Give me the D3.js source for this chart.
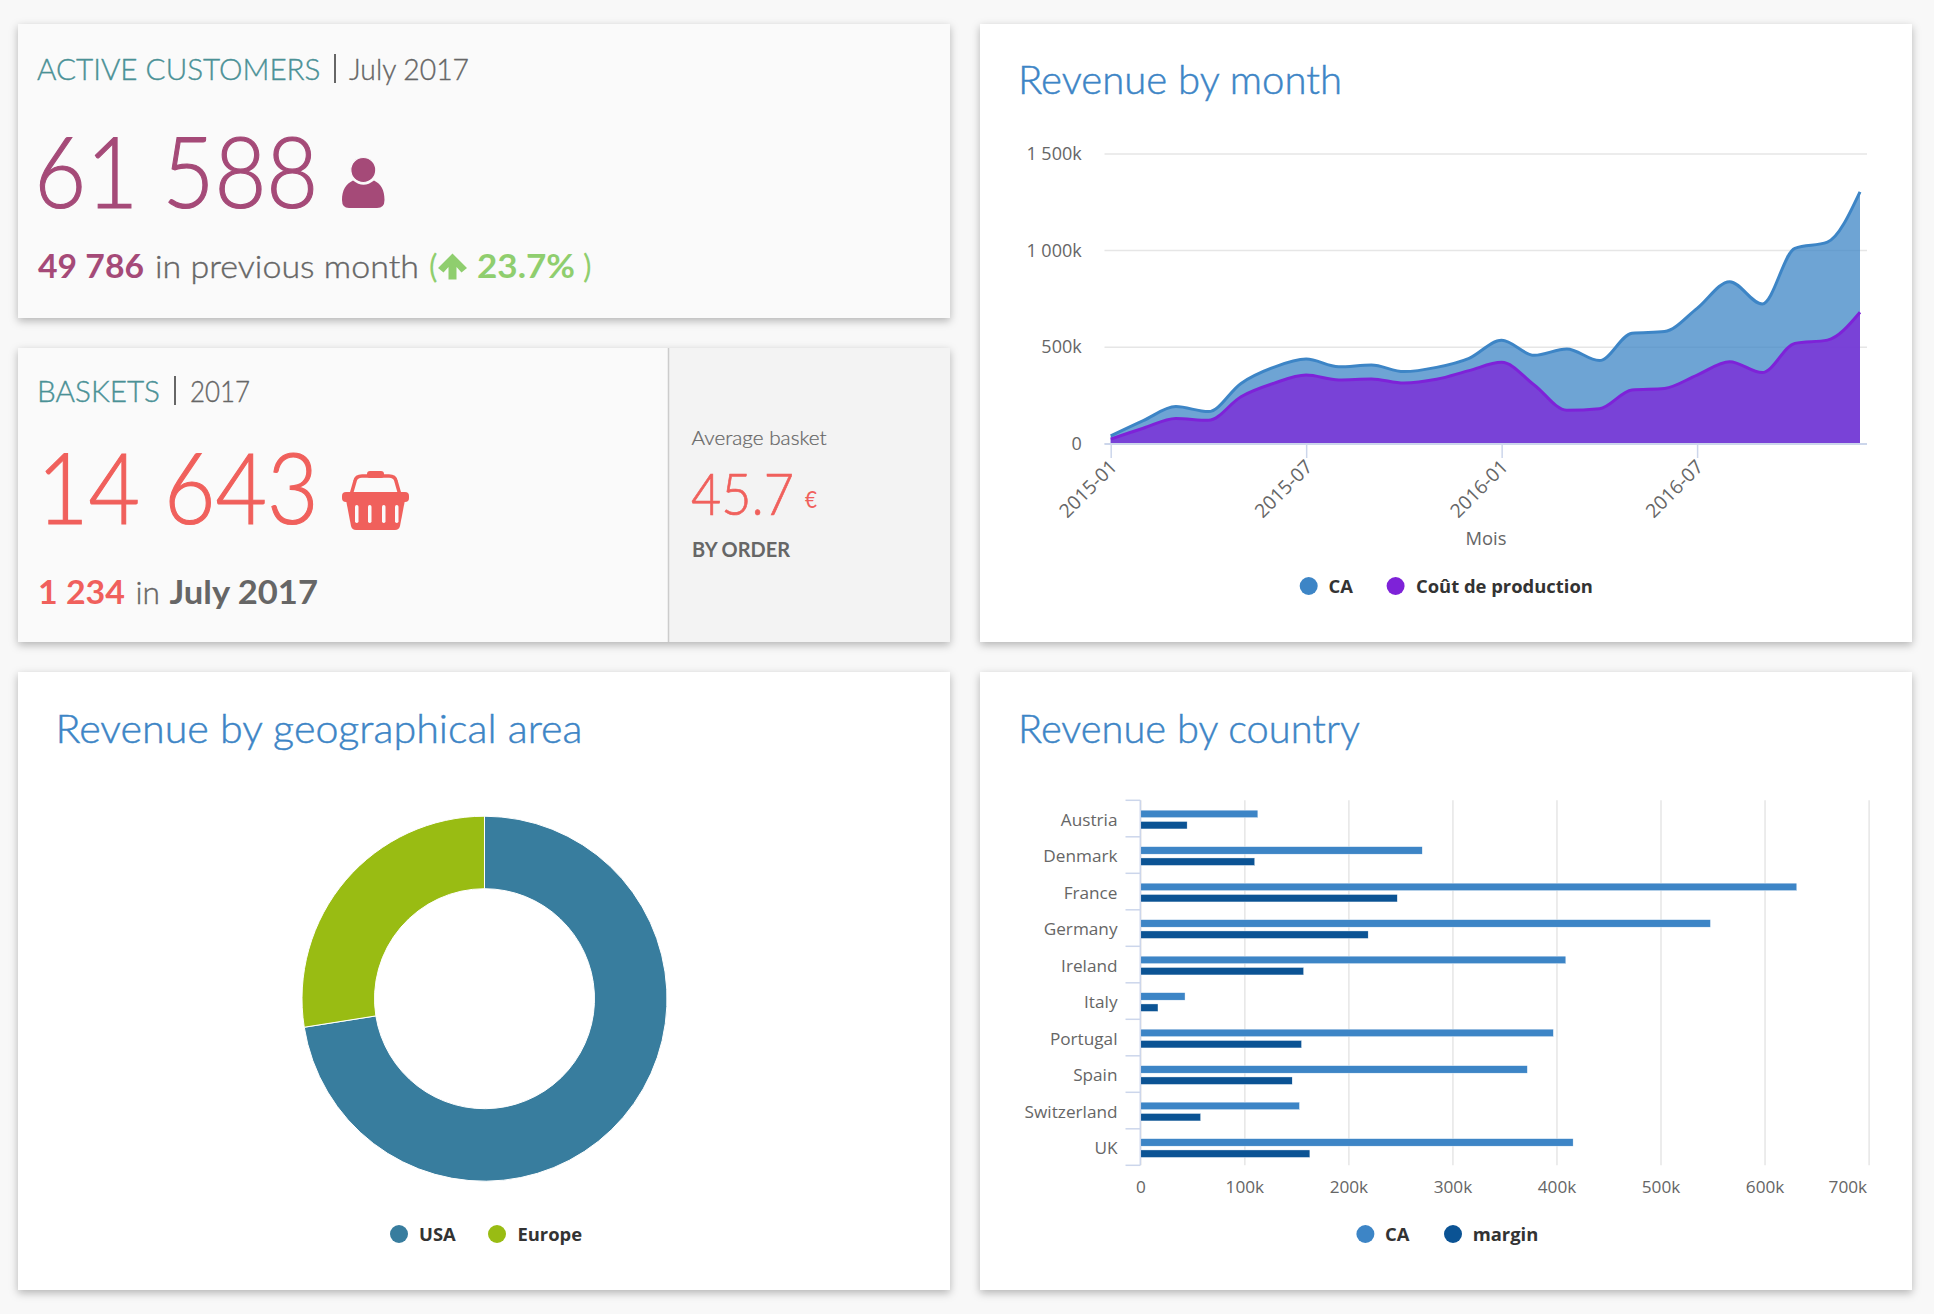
<!DOCTYPE html>
<html>
<head>
<meta charset="utf-8">
<title>Dashboard</title>
<script src="https://cdn.jsdelivr.net/npm/d3@7"></script>
<style>
	html, body { margin: 0; padding: 0; background: #f8f8f8; }
	svg { display: block; }
	.card { filter: drop-shadow(0 3px 4px rgba(0,0,0,.28)); }
	.axis text { font-family: 'Open Sans', sans-serif; fill: #666; }
	.title { font-family: Lato, sans-serif; font-weight: 300; }
	.light { font-family: Lato, sans-serif; font-weight: 300; }
	.reg { font-family: Lato, sans-serif; font-weight: 400; }
	.bold { font-family: Lato, sans-serif; font-weight: 700; }
	.legend { font-family: 'Open Sans', sans-serif; font-weight: 700; font-size: 18.4px; fill: #333; }
</style>
</head>
<body>
<div id="chart-area"></div>
<script>
// revenue by month, in thousands
var months = ['2015-01','2015-02','2015-03','2015-04','2015-05','2015-06','2015-07','2015-08','2015-09','2015-10','2015-11','2015-12',
	'2016-01','2016-02','2016-03','2016-04','2016-05','2016-06','2016-07','2016-08','2016-09','2016-10','2016-11','2016-12'];
var monthRevenue = [38,117,190,164,310,393,436,396,405,371,393,440,533,455,488,428,569,578,698,836,721,1009,1041,1301];
var monthCost = [22,78,128,119,241,310,353,328,333,312,331,376,419,302,171,179,276,284,353,422,366,517,534,678];
var monthTicks = ['2015-01','2015-07','2016-01','2016-07'];
var revenueTicks = [0,500,1000,1500];

// revenue by country, in thousands
var countries = ['Austria','Denmark','France','Germany','Ireland','Italy','Portugal','Spain','Switzerland','UK'];
var countryRevenue = [113,271,631,548,409,43,397,372,153,416];
var countryMargin = [45,110,247,219,157,17,155,146,58,163];
var countryTicks = [0,100,200,300,400,500,600,700];

// revenue by area
var areas = ['USA','Europe'];
var areaShare = [72.5,27.5];

var width = 1934;
var height = 1314;

var svg = d3.select('#chart-area')
	.append('svg')
	.attr('width', width)
	.attr('height', height);

var fr = d3.formatLocale({ decimal: '.', thousands: ' ', grouping: [3], currency: ['', ''] }).format(',');
function kFormat(d) { return d === 0 ? '0' : fr(d) + 'k'; }

function card(x, y, w, h, fill) {
	svg.append('rect')
		.attr('class', 'card')
		.attr('x', x).attr('y', y)
		.attr('width', w).attr('height', h)
		.attr('fill', fill);
}

// fit = measured width in the picture
function label(x, y, str, size, color, cls, fit) {
	var t = svg.append('text')
		.attr('class', cls)
		.attr('x', x).attr('y', y)
		.attr('font-size', size)
		.style('fill', color)
		.text(str);
	// Lato Light is thinner than the original face, thicken it a bit
	if (cls === 'light' || cls === 'title') t.style('stroke', color).style('stroke-width', size * .012);
	if (fit) t.attr('textLength', fit).attr('lengthAdjust', 'spacingAndGlyphs');
	return t;
}

function legendItem(x, y, textX, str, color) {
	svg.append('circle').attr('cx', x).attr('cy', y).attr('r', 9).attr('fill', color);
	svg.append('text').attr('class', 'legend').attr('x', textX).attr('y', y + 6.5).text(str);
}

card(18, 24, 932, 294, '#fafafa');
card(18, 348, 932, 294, '#fafafa');
svg.append('rect').attr('x', 669).attr('y', 348).attr('width', 281).attr('height', 294).attr('fill', '#f3f3f3');
svg.append('line').attr('x1', 668.5).attr('x2', 668.5).attr('y1', 348).attr('y2', 642).attr('stroke', '#ccc').attr('stroke-width', 1.5);
card(980, 24, 932, 618, '#fff');
card(18, 672, 932, 618, '#fff');
card(980, 672, 932, 618, '#fff');

var teal = '#4a9196', grey = '#666', plum = '#a54a78', red = '#f0605c', green = '#8fce6e';

/* active customers */
label(37, 80, 'ACTIVE CUSTOMERS', 30, teal, 'light', 283.5);
svg.append('line').attr('x1', 335).attr('x2', 335).attr('y1', 54).attr('y2', 83).attr('stroke', grey).attr('stroke-width', 2);
label(349, 80, 'July 2017', 30, grey, 'light', 120);
label(34.3, 208, '61 588', 98, plum, 'light', 284);
svg.append('path').attr('fill', plum)
	.attr('d', 'M342,200C342,190 346,184 353,180.5Q363.5,189 374,180.5C381,184 384.5,190 384.5,200Q384.5,208 377,208L349,208Q342,208 342,200Z');
svg.append('circle').attr('cx', 363.3).attr('cy', 170).attr('r', 12.5).attr('fill', plum).attr('stroke', '#fafafa').attr('stroke-width', 1.2);
label(38, 277.5, '49 786', 32, plum, 'bold', 106);
label(155, 277.5, 'in previous month', 32, grey, 'light', 264);
label(429, 277.5, '(', 32, green, 'reg');
svg.append('path').attr('fill', green)
	.attr('d', 'M452.5,253.5L467,268L461.5,272.5L456.5,267L456.5,279.5L448.5,279.5L448.5,267L443.5,272.5L438,268Z');
label(477, 277.5, '23.7%', 32, green, 'bold', 98);
label(583, 277.5, ')', 32, green, 'reg');

/* baskets */
label(37, 402, 'BASKETS', 30, teal, 'light', 123);
svg.append('line').attr('x1', 175).attr('x2', 175).attr('y1', 376).attr('y2', 405).attr('stroke', grey).attr('stroke-width', 2);
label(190, 402, '2017', 30, grey, 'light', 60);
label(37, 524, '14 643', 98, red, 'light', 281.6);
svg.append('path').attr('fill', 'none').attr('stroke', red).attr('stroke-width', 3.5)
	.attr('d', 'M351,495L355,481Q356,476 362,476L389,476Q395,476 396,481L400,495');
svg.append('rect').attr('x', 367).attr('y', 471).attr('width', 17).attr('height', 7).attr('rx', 3).attr('fill', red);
svg.append('rect').attr('x', 342).attr('y', 492).attr('width', 67).attr('height', 10).attr('rx', 4).attr('fill', red);
svg.append('path').attr('fill', red)
	.attr('d', 'M346,500L405,500L400,526Q399,530 395,530L356,530Q352,530 351,526Z');
[355, 368, 382, 395].forEach(function(x) {
	svg.append('rect').attr('x', x).attr('y', 505).attr('width', 3.5).attr('height', 18).attr('rx', 1.7).attr('fill', '#fafafa');
});
label(38, 603.5, '1 234', 32, red, 'bold', 87);
label(135.5, 603.5, 'in', 32, grey, 'light', 24.5);
label(169.5, 603.5, 'July 2017', 32, grey, 'bold', 148.5);
label(691.5, 445, 'Average basket', 19, grey, 'light', 135);
label(691, 514.5, '45.7', 58, red, 'light', 103);
label(805, 508, '€', 24, red, 'reg', 12);
label(692, 557, 'BY ORDER', 20, grey, 'bold', 98);

/* titles */
label(1018, 94, 'Revenue by month', 39, '#3d85c6', 'title', 324);
label(55.5, 742.5, 'Revenue by geographical area', 39, '#3d85c6', 'title', 527);
label(1018, 742.5, 'Revenue by country', 39, '#3d85c6', 'title', 342);

/* revenue by month */
var xMonth = d3.scalePoint().domain(months).range([1110.7, 1860]);
var yMonth = d3.scaleLinear().domain([0, 1500]).range([443.3, 153.4]);

svg.append('g')
	.attr('class', 'axis')
	.attr('transform', 'translate(1104.5,0)')
	.call(d3.axisLeft(yMonth).tickValues(revenueTicks).tickFormat(kFormat).tickSize(-762.5).tickPadding(22.8))
	.call(function(g) { g.select('.domain').remove(); })
	.call(function(g) { g.selectAll('.tick line').attr('stroke', '#e6e6e6').attr('stroke-width', 1.5); })
	.selectAll('text')
		.attr('font-size', 18)
		.attr('dy', '.34em');

var areaGen = function(values) {
	return d3.area()
		.x(function(d, i) { return xMonth(months[i]); })
		.y0(yMonth(0))
		.y1(function(d) { return yMonth(d); })
		.curve(d3.curveMonotoneX)(values);
};
var lineGen = d3.line()
	.x(function(d, i) { return xMonth(months[i]); })
	.y(function(d) { return yMonth(d); })
	.curve(d3.curveMonotoneX);

svg.append('path').attr('d', areaGen(monthRevenue)).attr('fill', '#3d85c6').attr('fill-opacity', .75);
svg.append('path').attr('d', lineGen(monthRevenue)).attr('fill', 'none').attr('stroke', '#3d85c6').attr('stroke-width', 3);
svg.append('path').attr('d', areaGen(monthCost)).attr('fill', '#7e22d8').attr('fill-opacity', .75);
svg.append('path').attr('d', lineGen(monthCost)).attr('fill', 'none').attr('stroke', '#7e22d8').attr('stroke-width', 3);

svg.append('g')
	.attr('class', 'axis')
	.attr('transform', 'translate(0,444)')
	.call(d3.axisBottom(xMonth).tickValues(monthTicks).tickSize(14).tickSizeOuter(0))
	.call(function(g) { g.select('.domain').remove(); })
	.call(function(g) { g.selectAll('.tick line').attr('stroke', '#ccd6eb').attr('stroke-width', 1.5); })
	.selectAll('text')
		.attr('font-size', 19.2)
		.attr('text-anchor', 'end')
		.attr('dy', 0)
		.attr('x', 0)
		.attr('y', 0)
		.attr('transform', 'translate(7,24) rotate(-45)');
svg.append('line').attr('x1', 1104.5).attr('x2', 1867).attr('y1', 444).attr('y2', 444).attr('stroke', '#ccd6eb').attr('stroke-width', 2);

svg.append('text')
	.attr('x', 1486).attr('y', 544.5)
	.attr('text-anchor', 'middle')
	.attr('font-family', 'Open Sans, sans-serif').attr('font-size', 18.4).attr('fill', '#666')
	.text('Mois');
legendItem(1308.7, 586, 1328.5, 'CA', '#3d85c6');
legendItem(1395.6, 586, 1416, 'Coût de production', '#7e22d8');

/* revenue by area */
var pie = d3.pie().sort(null);
var arc = d3.arc().innerRadius(110).outerRadius(182.5);
var areaColor = d3.scaleOrdinal().domain(areas).range(['#387d9e', '#99bc13']);
svg.append('g')
	.attr('transform', 'translate(484.5,998.7)')
	.selectAll('path')
	.data(pie(areaShare))
		.enter()
			.append('path')
			.attr('d', arc)
			.attr('fill', function(d, i) { return areaColor(areas[i]); })
			.attr('stroke', '#fff')
			.attr('stroke-width', 1);
legendItem(399, 1234, 419, areas[0], areaColor(areas[0]));
legendItem(497, 1234, 517.4, areas[1], areaColor(areas[1]));

/* revenue by country */
var xCountry = d3.scaleLinear().domain([0, 700]).range([1140.3, 1868.6]);
var yCountry = d3.scaleBand().domain(countries).range([800.3, 1165.3]);
var ySeries = d3.scaleBand().domain(['CA', 'margin']).range([1, yCountry.bandwidth() + 1]).paddingInner(.336).paddingOuter(.783);

svg.append('g')
	.attr('class', 'axis')
	.attr('transform', 'translate(0,1165.3)')
	.call(d3.axisBottom(xCountry).tickValues(countryTicks).tickFormat(kFormat).tickSize(-365).tickPadding(15.5))
	.call(function(g) { g.select('.domain').remove(); })
	.call(function(g) { g.selectAll('.tick line').attr('stroke', '#e6e6e6').attr('stroke-width', 1.5); })
	.selectAll('text')
		.attr('font-size', 17.2)
		.filter(function(d) { return d === 700; })
			.attr('text-anchor', 'end')
			.attr('dx', -2);

[['CA', countryRevenue, '#3d85c6'], ['margin', countryMargin, '#0b5394']].forEach(function(s) {
	svg.append('g')
		.selectAll('rect')
		.data(s[1])
			.enter()
				.append('rect')
				.attr('x', xCountry(0))
				.attr('y', function(d, i) { return yCountry(countries[i]) + ySeries(s[0]); })
				.attr('width', function(d) { return xCountry(d) - xCountry(0); })
				.attr('height', ySeries.bandwidth())
				.attr('fill', s[2])
				.attr('stroke', '#fff')
				.attr('stroke-width', .4);
});

svg.append('g')
	.attr('class', 'axis')
	.attr('transform', 'translate(1140.3,0)')
	.call(d3.axisLeft(yCountry).tickSize(0).tickPadding(22.8))
	.call(function(g) { g.select('.domain').remove(); })
	.selectAll('text')
		.attr('font-size', 17.2)
		.attr('dy', '.42em');

// category tick marks sit on the band edges
svg.append('g')
	.selectAll('line')
	.data(countries.concat(['end']))
		.enter()
			.append('line')
			.attr('x1', 1125.5).attr('x2', 1140.3)
			.attr('y1', function(d) { return d === 'end' ? yCountry.range()[1] : yCountry(d); })
			.attr('y2', function(d) { return d === 'end' ? yCountry.range()[1] : yCountry(d); })
			.attr('stroke', '#ccd6eb').attr('stroke-width', 1.5);
svg.append('line').attr('x1', 1140.3).attr('x2', 1140.3).attr('y1', 800.3).attr('y2', 1165.3).attr('stroke', '#ccd6eb').attr('stroke-width', 1.5);

legendItem(1365.4, 1234, 1385, 'CA', '#3d85c6');
legendItem(1453, 1234, 1472.7, 'margin', '#0b5394');
</script>
</body>
</html>
